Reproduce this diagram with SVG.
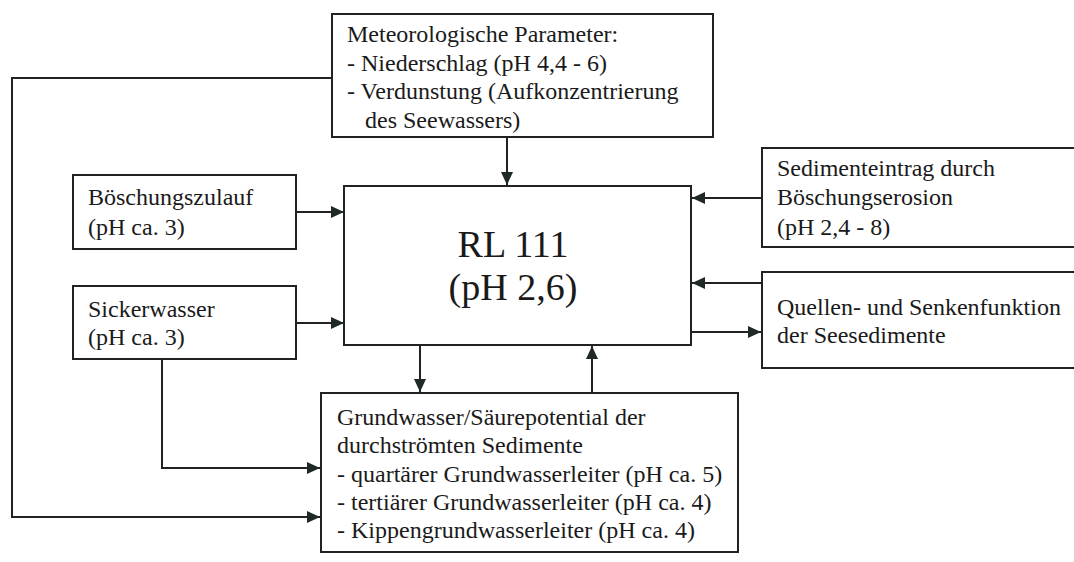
<svg xmlns="http://www.w3.org/2000/svg" width="1074" height="562" viewBox="0 0 1074 562">
<style>
.box{fill:#fff;stroke:#222;stroke-width:2}
.t{font-size:24px;fill:#1a1a1a}
.big{font-size:38px;fill:#1a1a1a;text-anchor:middle}
.c{fill:none;stroke:#222;stroke-width:2}
</style>
<defs>
<marker id="ah" markerUnits="userSpaceOnUse" markerWidth="14" markerHeight="14" refX="13" refY="7" orient="auto">
<path d="M0,1 L13,7 L0,13 z" fill="#1f2a25"/>
</marker>
</defs>
<rect width="1074" height="562" fill="#fff"/>
<g id="connectors">
<path class="c" d="M507,137 V185" marker-end="url(#ah)"/>
<path class="c" d="M332,78 H12 V517 H320" marker-end="url(#ah)"/>
<path class="c" d="M296,212 H344" marker-end="url(#ah)"/>
<path class="c" d="M296,323 H344" marker-end="url(#ah)"/>
<path class="c" d="M162,359 V468 H320" marker-end="url(#ah)"/>
<path class="c" d="M762,198 H692" marker-end="url(#ah)"/>
<path class="c" d="M762,283 H692" marker-end="url(#ah)"/>
<path class="c" d="M692,332 H761" marker-end="url(#ah)"/>
<path class="c" d="M420,345 V392" marker-end="url(#ah)"/>
<path class="c" d="M592,393 V346" marker-end="url(#ah)"/>
</g>
<g font-family="Liberation Serif, Times New Roman, serif">
<g id="meteo">
<rect class="box" x="332" y="14" width="381" height="123"/>
<text class="t" x="347" y="42">Meteorologische Parameter:</text>
<text class="t" x="347" y="71">- Niederschlag (pH 4,4 - 6)</text>
<text class="t" x="347" y="99">- Verdunstung (Aufkonzentrierung</text>
<text class="t" x="365" y="128">des Seewassers)</text>
</g>
<g id="rl111">
<rect class="box" x="344" y="186" width="347" height="159"/>
<text class="big" x="513" y="257">RL 111</text>
<text class="big" x="513" y="300">(pH 2,6)</text>
</g>
<g id="boeschungszulauf">
<rect class="box" x="73" y="175" width="223" height="74"/>
<text class="t" x="88" y="205">Böschungszulauf</text>
<text class="t" x="88" y="235">(pH ca. 3)</text>
</g>
<g id="sickerwasser">
<rect class="box" x="73" y="286" width="223" height="73"/>
<text class="t" x="88" y="317">Sickerwasser</text>
<text class="t" x="88" y="345">(pH ca. 3)</text>
</g>
<g id="sedimenteintrag">
<rect class="box" x="762" y="148" width="330" height="99"/>
<text class="t" x="777" y="176">Sedimenteintrag durch</text>
<text class="t" x="777" y="205">Böschungserosion</text>
<text class="t" x="777" y="235">(pH 2,4 - 8)</text>
</g>
<g id="quellen">
<rect class="box" x="762" y="272" width="330" height="96"/>
<text class="t" x="777" y="315">Quellen- und Senkenfunktion</text>
<text class="t" x="777" y="343">der Seesedimente</text>
</g>
<g id="grundwasser">
<rect class="box" x="321" y="393" width="417" height="159"/>
<text class="t" x="337" y="425">Grundwasser/Säurepotential der</text>
<text class="t" x="337" y="453">durchströmten Sedimente</text>
<text class="t" x="337" y="482">- quartärer Grundwasserleiter (pH ca. 5)</text>
<text class="t" x="337" y="510">- tertiärer Grundwasserleiter (pH ca. 4)</text>
<text class="t" x="337" y="538">- Kippengrundwasserleiter (pH ca. 4)</text>
</g>
</g>
</svg>
